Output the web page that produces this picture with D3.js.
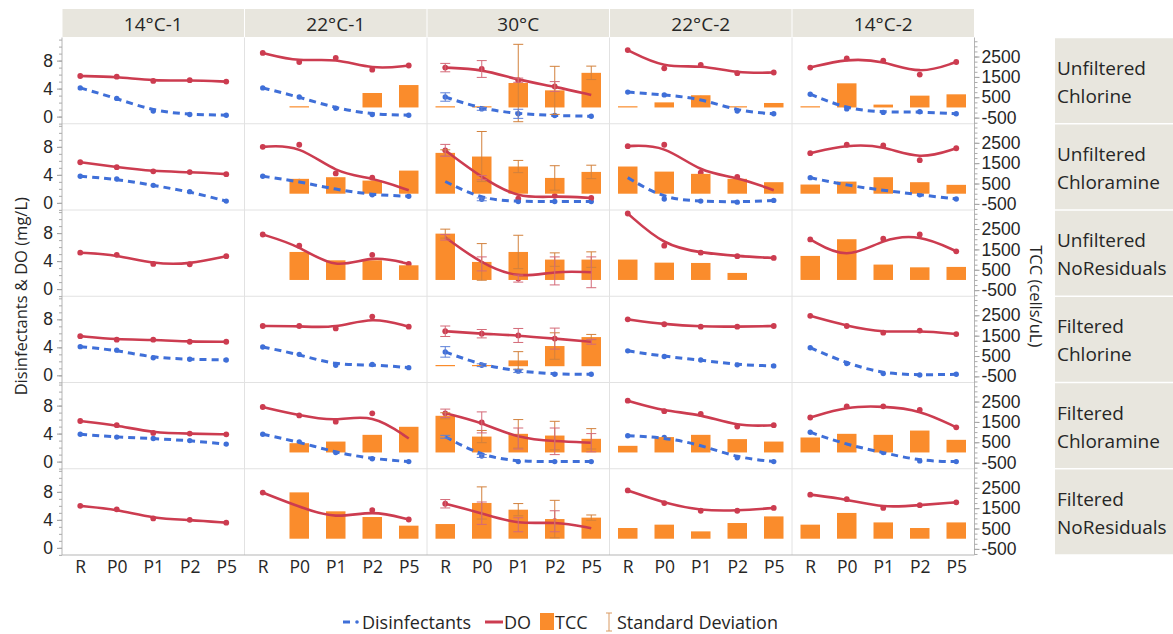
<!doctype html>
<html>
<head>
<meta charset="utf-8">
<title>Disinfectants, DO and TCC</title>
<script src="https://cdnjs.cloudflare.com/ajax/libs/d3/7.8.5/d3.min.js"></script>
<style>
  body { margin: 0; background: #fff; }
  svg text { font-family: "Open Sans", "Noto Sans", sans-serif; fill: #262626; }
</style>
</head>
<body>
<div id="chart"></div>
<script>
// panel columns (temperature runs), panel rows (treatment), sampling sites
const columns = ["14°C-1", "22°C-1", "30°C", "22°C-2", "14°C-2"];
const rowLabels = [
  ["Unfiltered", "Chlorine"], ["Unfiltered", "Chloramine"], ["Unfiltered", "NoResiduals"],
  ["Filtered", "Chlorine"], ["Filtered", "Chloramine"], ["Filtered", "NoResiduals"]
];
const sites = ["R", "P0", "P1", "P2", "P5"];

// DO (mg/L) [row][column][site]
const doValues = [
  [[5.8, 5.7, 5.1, 5.2, 5.0], [9.1, 7.8, 8.4, 6.7, 7.3], [7.0, 6.8, 5.2, 4.3, 3.1], [9.5, 6.9, 7.4, 6.2, 6.3], [7.0, 8.3, 8.0, 6.0, 7.8]],
  [[5.8, 5.1, 4.5, 4.4, 4.1], [8.0, 8.3, 4.2, 3.6, 1.8], [7.5, 3.6, 0.6, 1.0, 0.7], [8.1, 8.3, 4.3, 3.7, 1.8], [7.1, 8.3, 8.2, 6.1, 7.8]],
  [[5.2, 4.9, 3.6, 3.55, 4.7], [7.8, 6.2, 2.7, 4.9, 3.6], [7.4, 3.6, 1.5, 2.6, 2.4], [10.8, 6.2, 5.2, 4.7, 4.45], [7.1, 4.1, 7.2, 7.8, 5.4]],
  [[5.6, 5.1, 5.1, 4.8, 4.8], [7.05, 7.05, 6.7, 8.4, 6.95], [6.3, 5.95, 5.7, 5.25, 4.8], [8.0, 7.3, 6.95, 6.95, 7.05], [8.5, 7.05, 6.1, 6.4, 5.9]],
  [[5.8, 5.2, 4.1, 4.0, 3.9], [7.8, 6.6, 5.7, 6.9, 3.3], [6.9, 5.6, 3.3, 2.9, 2.7], [8.7, 7.2, 6.8, 5.0, 5.2], [6.3, 7.9, 7.9, 7.4, 4.9]],
  [[6.0, 5.5, 4.2, 4.0, 3.6], [7.9, 5.85, 4.1, 5.4, 4.05], [6.3, 4.95, 3.3, 3.8, 2.8], [8.2, 6.4, 5.3, 5.3, 5.7], [7.6, 6.95, 5.7, 6.1, 6.5]]
];

// Disinfectants (mg/L) [row][column][site]; null rows = no residual
const disValues = [
  [[4.1, 2.6, 0.8, 0.3, 0.2], [4.1, 2.8, 1.2, 0.3, 0.2], [2.8, 1.1, 0.4, 0.15, 0.05], [3.5, 3.1, 2.6, 0.8, 0.4], [3.2, 1.1, 0.6, 0.7, 0.4]],
  [[3.8, 3.4, 2.5, 1.6, 0.25], [3.8, 3.05, 1.9, 1.15, 0.95], [3.05, 0.5, 0.2, 0.2, 0.2], [3.6, 0.55, 0.25, 0.1, 0.35], [3.6, 2.5, 1.8, 1.15, 0.55]],
  null,
  [[4.1, 3.6, 2.5, 2.3, 2.2], [4.05, 3.0, 1.45, 1.55, 1.1], [3.35, 1.45, 0.6, 0.15, 0.15], [3.5, 2.7, 2.2, 1.5, 1.35], [3.95, 1.7, 0.25, 0.05, 0.15]],
  [[3.9, 3.5, 3.3, 3.0, 2.5], [3.9, 2.8, 1.3, 0.4, 0.0], [3.55, 0.8, 0.0, 0.0, 0.0], [3.7, 3.45, 2.4, 0.55, 0.0], [4.2, 2.4, 1.3, 0.1, 0.0]],
  null
];

// TCC (cells/uL) [row][column][site]
const tccValues = [
  [null, [null, 15, null, 710, 1100], [25, 20, 1200, 840, 1700], [20, 250, 600, 20, 220], [10, 1185, 140, 580, 645]],
  [null, [null, 730, 810, 645, 1135], [2005, 1825, 1335, 775, 1070], [1335, 1085, 975, 730, 565], [450, 595, 810, 565, 435]],
  [null, [null, 1375, 965, 965, 720], [2275, 885, 1375, 1000, 1000], [1000, 850, 835, 345, null], [1180, 2000, 755, 620, 640]],
  [null, null, [40, 40, 285, 990, 1430], null, null],
  [null, [null, 455, 535, 865, 1260], [1800, 780, 915, 830, 670], [325, 755, 865, 655, 535], [735, 915, 865, 1075, 620]],
  [null, [null, 2275, 1345, 1065, 640], [720, 1755, 1425, 965, 1035], [525, 690, 360, 770, 1095], [690, 1265, 800, 525, 800]]
];

// standard deviations, only measured for the 30°C run [row][site]
const sdColumn = 2;
const doSd = [
  [0.6, 1.2, 0.3, 0.7, 0.2], [0.85, 0.3, 0.2, 0.2, 0.2], [0.4, 1.0, 0.5, 2.0, 2.2],
  [0.75, 0.6, 1.0, 1.5, 0.35], [0.6, 1.5, 1.5, 1.9, 1.3], [0.6, 1.6, 1.0, 1.5, 0.2]
];
const disSd = [
  [0.6, 0.2, 0.65, 0.1, 0.1], [0, 0.2, 0.1, 0.1, 0.1], null,
  [0.75, 0.2, 0.2, 0.1, 0.1], [0.2, 0.2, 0.1, 0.1, 0.1], null
];
const tccSd = [
  [0, 0, 1900, 1180, 330], [150, 1230, 300, 600, 330], [220, 900, 820, 330, 380],
  [0, 0, 430, 650, 130], [150, 300, 700, 700, 500], [0, 790, 300, 920, 130]
];

const leftTicks = [0, 4, 8];
const rightTicks = [-500, 500, 1500, 2500];

// ---- layout ----
const width = 1173, height = 634;
const plotLeft = 62, plotRight = 974.5, plotTop = 37.5, plotBottom = 555;
const colW = (plotRight - plotLeft) / columns.length;
const rowH = (plotBottom - plotTop) / rowLabels.length;
const barW = 19.5;
const fontStack = '"Open Sans", "Noto Sans", sans-serif';
const tickFont = '"Liberation Sans", Arial, sans-serif';

const cRed = "#cc3c50", cBlue = "#3f6fd8", cOrange = "#fa8c2c";
const cGrid = "#e2e2e2", cAxis = "#b5b5b5", cStrip = "#e8e6de";

const svg = d3.select("#chart").append("svg")
  .attr("width", width).attr("height", height);

// column headers
svg.selectAll("rect.colhead").data(columns).join("rect")
  .attr("x", (d, i) => plotLeft + i * colW + 0.5)
  .attr("y", 9)
  .attr("width", colW - 1)
  .attr("height", plotTop - 9 - 0.5)
  .attr("fill", cStrip);
svg.selectAll("text.colhead").data(columns).join("text")
  .attr("x", (d, i) => plotLeft + (i + 0.5) * colW)
  .attr("y", 23.5)
  .attr("text-anchor", "middle")
  .attr("dominant-baseline", "central")
  .style("font-size", "19px")
  .text(d => d);

// row strips on the right
svg.selectAll("rect.rowhead").data(rowLabels).join("rect")
  .attr("x", 1055)
  .attr("y", (d, i) => plotTop + i * rowH + 0.75)
  .attr("width", width - 1055)
  .attr("height", rowH - 1.5)
  .attr("fill", cStrip);
rowLabels.forEach((lines, i) => {
  const cy = plotTop + (i + 0.5) * rowH;
  svg.append("text")
    .attr("x", 1057).attr("y", cy)
    .style("font-size", "19px")
    .selectAll("tspan").data(lines).join("tspan")
    .attr("x", 1057)
    .attr("y", (d, j) => cy + (j === 0 ? -13 : 15))
    .attr("dominant-baseline", "central")
    .text(d => d);
});

// panel grid
const grid = svg.append("g");
d3.range(1, columns.length).forEach(i => {
  grid.append("line")
    .attr("x1", plotLeft + i * colW).attr("x2", plotLeft + i * colW)
    .attr("y1", plotTop).attr("y2", plotBottom)
    .attr("stroke", cGrid);
});
d3.range(1, rowLabels.length).forEach(i => {
  grid.append("line")
    .attr("x1", plotLeft).attr("x2", plotRight)
    .attr("y1", plotTop + i * rowH).attr("y2", plotTop + i * rowH)
    .attr("stroke", cGrid);
});

// axis frames
svg.append("line").attr("x1", plotLeft).attr("x2", plotLeft)
  .attr("y1", plotTop).attr("y2", plotBottom).attr("stroke", cAxis);
svg.append("line").attr("x1", plotRight).attr("x2", plotRight)
  .attr("y1", plotTop).attr("y2", plotBottom).attr("stroke", cAxis);
svg.append("line").attr("x1", plotLeft).attr("x2", plotRight)
  .attr("y1", plotBottom).attr("y2", plotBottom).attr("stroke", cAxis);

function errorBar(g, cx, yTop, yBot, color, half = 5) {
  g.append("line").attr("x1", cx).attr("x2", cx).attr("y1", yTop).attr("y2", yBot)
    .attr("stroke", color).attr("stroke-width", 1);
  [yTop, yBot].forEach(yy => {
    g.append("line").attr("x1", cx - half).attr("x2", cx + half).attr("y1", yy).attr("y2", yy)
      .attr("stroke", color).attr("stroke-width", 1);
  });
}

rowLabels.forEach((rl, r) => {
  const rowTop = plotTop + r * rowH, rowBottom = rowTop + rowH;
  const yL = d3.scaleLinear().domain([-1.02, 11.3]).range([rowBottom, rowTop]);
  const yR = d3.scaleLinear().domain([-800, 3435]).range([rowBottom, rowTop]);

  // left axis for this row
  const gl = svg.append("g").attr("transform", `translate(${plotLeft},0)`)
    .call(d3.axisLeft(yL).tickValues(leftTicks).tickSize(5).tickPadding(4));
  gl.select(".domain").remove();
  gl.selectAll(".tick line").attr("stroke", "#999");
  gl.selectAll(".tick text").style("font-size", "17.5px").attr("fill", "#262626")
    .style("font-family", tickFont);
  const glm = svg.append("g").attr("transform", `translate(${plotLeft},0)`)
    .call(d3.axisLeft(yL).tickValues(d3.range(-1, 12)).tickSize(3).tickFormat(""));
  glm.select(".domain").remove();
  glm.selectAll(".tick line").attr("stroke", "#aaa");

  // right axis for this row
  const gr = svg.append("g").attr("transform", `translate(${plotRight},0)`)
    .call(d3.axisRight(yR).tickValues(rightTicks).tickSize(5).tickPadding(2));
  gr.select(".domain").remove();
  gr.selectAll(".tick line").attr("stroke", "#999");
  gr.selectAll(".tick text").style("font-size", "17.5px").attr("fill", "#262626")
    .style("font-family", tickFont)
    .text(d => d < 0 ? "-" + Math.abs(d) : d);
  const grm = svg.append("g").attr("transform", `translate(${plotRight},0)`)
    .call(d3.axisRight(yR).tickValues(d3.range(-750, 3300, 250)).tickSize(3).tickFormat(""));
  grm.select(".domain").remove();
  grm.selectAll(".tick line").attr("stroke", "#aaa");

  columns.forEach((col, c) => {
    const x0 = plotLeft + c * colW;
    const x = d3.scalePoint().domain(sites).range([x0, x0 + colW]).padding(0.5);
    const g = svg.append("g");
    const dis = disValues[r] ? disValues[r][c] : null;
    const dov = doValues[r][c];
    const tcc = tccValues[r][c];
    const ptsDo = sites.map((s, i) => [x(s), yL(dov[i])]);
    const ptsDis = dis ? sites.map((s, i) => [x(s), yL(dis[i])]) : [];

    // points sit underneath the bars
    g.selectAll("circle.dis").data(ptsDis).join("circle").attr("class", "dis")
      .attr("cx", d => d[0]).attr("cy", d => d[1]).attr("r", 2.7).attr("fill", cBlue);
    g.selectAll("circle.do").data(ptsDo).join("circle").attr("class", "do")
      .attr("cx", d => d[0]).attr("cy", d => d[1]).attr("r", 2.9).attr("fill", cRed);

    // TCC bars
    if (tcc) {
      const bars = sites.map((s, i) => ({ s, v: tcc[i] })).filter(d => d.v != null);
      g.selectAll("rect").data(bars).join("rect")
        .attr("x", d => x(d.s) - barW / 2)
        .attr("width", barW)
        .attr("y", d => Math.min(yR(d.v), yR(0) - 1.2))
        .attr("height", d => Math.max(yR(0) - yR(d.v), 1.2))
        .attr("fill", cOrange);
    }

    // smoothed lines over the bars
    if (dis) {
      g.append("path").datum(ptsDis)
        .attr("d", d3.line().curve(d3.curveBasis))
        .attr("fill", "none").attr("stroke", cBlue)
        .attr("stroke-width", 3).attr("stroke-dasharray", "7,5");
    }
    g.append("path").datum(ptsDo)
      .attr("d", d3.line().curve(d3.curveBasis))
      .attr("fill", "none").attr("stroke", cRed).attr("stroke-width", 2.6);

    // standard deviation bars (30°C only)
    if (c === sdColumn) {
      if (tcc) sites.forEach((s, i) => {
        if (tcc[i] != null && tccSd[r][i] > 0)
          errorBar(g, x(s), yR(tcc[i] + tccSd[r][i]), yR(tcc[i] - tccSd[r][i]), "#d2813c");
      });
      if (dis && disSd[r]) sites.forEach((s, i) => {
        if (disSd[r][i] > 0.15)
          errorBar(g, x(s), yL(dis[i] + disSd[r][i]), yL(dis[i] - disSd[r][i]), "#5d80d8");
      });
      sites.forEach((s, i) => {
        if (doSd[r][i] > 0.25)
          errorBar(g, x(s), yL(dov[i] + doSd[r][i]), yL(dov[i] - doSd[r][i]), "#d46a78");
      });
    }
  });
});

// x tick labels under each column
columns.forEach((col, c) => {
  const x0 = plotLeft + c * colW;
  const x = d3.scalePoint().domain(sites).range([x0, x0 + colW]).padding(0.5);
  const ax = svg.append("g").attr("transform", `translate(0,${plotBottom})`)
    .call(d3.axisBottom(x).tickSize(0).tickPadding(6));
  ax.select(".domain").remove();
  ax.selectAll(".tick text").style("font-size", "17.5px").attr("fill", "#262626")
    .style("font-family", fontStack);
});

// axis titles
svg.append("text")
  .attr("transform", `translate(20,${(plotTop + plotBottom) / 2}) rotate(-90)`)
  .attr("text-anchor", "middle").attr("dominant-baseline", "central")
  .style("font-size", "16.5px")
  .text("Disinfectants & DO (mg/L)");
svg.append("text")
  .attr("transform", `translate(1036,${(plotTop + plotBottom) / 2}) rotate(90)`)
  .attr("text-anchor", "middle").attr("dominant-baseline", "central")
  .style("font-size", "16.5px")
  .text("TCC (cells/uL)");

// legend
const lg = svg.append("g").attr("transform", "translate(0,622)");
lg.append("line").attr("x1", 343).attr("x2", 350).attr("y1", 0).attr("y2", 0)
  .attr("stroke", cBlue).attr("stroke-width", 3);
lg.append("circle").attr("cx", 357).attr("cy", 0).attr("r", 1.8).attr("fill", cBlue);
lg.append("text").attr("x", 362).attr("y", 0).attr("dominant-baseline", "central")
  .style("font-size", "18px").text("Disinfectants");
lg.append("line").attr("x1", 485).attr("x2", 503).attr("y1", 0).attr("y2", 0)
  .attr("stroke", cRed).attr("stroke-width", 3);
lg.append("text").attr("x", 504).attr("y", 0).attr("dominant-baseline", "central")
  .style("font-size", "18px").text("DO");
lg.append("rect").attr("x", 540).attr("y", -9).attr("width", 14).attr("height", 17)
  .attr("fill", cOrange);
lg.append("text").attr("x", 555).attr("y", 0).attr("dominant-baseline", "central")
  .style("font-size", "18px").text("TCC");
errorBar(lg, 609, -9, 9, "#d99a62", 3);
lg.append("text").attr("x", 617).attr("y", 0).attr("dominant-baseline", "central")
  .style("font-size", "18px").text("Standard Deviation");
</script>
</body>
</html>
